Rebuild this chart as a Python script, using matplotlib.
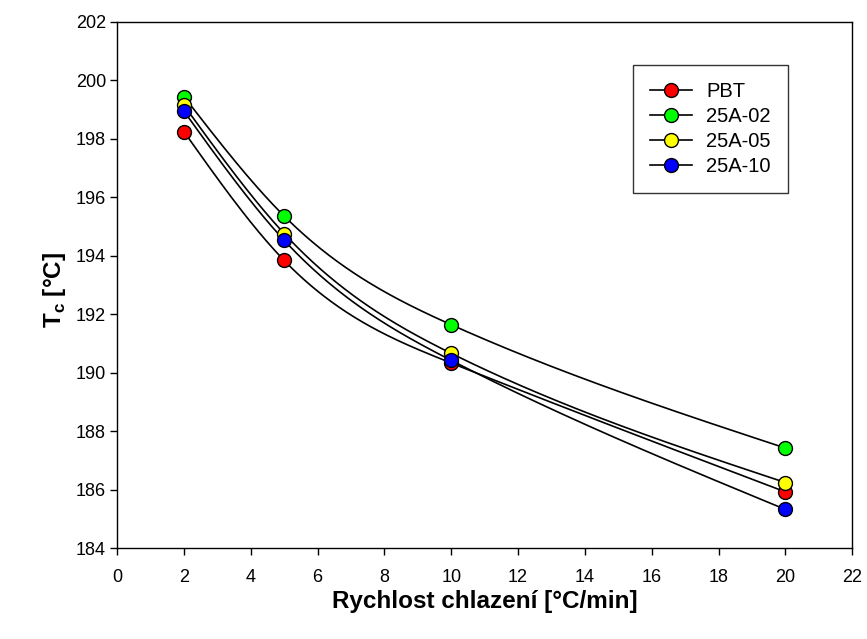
import numpy as np
import matplotlib
matplotlib.use("Agg")
import matplotlib.pyplot as plt
from matplotlib.lines import Line2D

plt.rcParams['font.family'] = ['Liberation Sans', 'DejaVu Sans']

rate = [2, 5, 10, 20]
series = ["PBT", "25A-02", "25A-05", "25A-10"]
tc_pbt = [198.25, 193.84, 190.33, 185.92]
tc_02 = [199.45, 195.36, 191.64, 187.42]
tc_05 = [199.15, 194.76, 190.66, 186.24]
tc_10 = [198.95, 194.53, 190.42, 185.32]
colors = ["#ff0000", "#00ff00", "#ffff00", "#0000ff"]


def natural_spline(x, y, xs):
    # smooth curve through the measured points (like SigmaPlot's spline line)
    x = np.asarray(x, float); y = np.asarray(y, float)
    n = len(x)
    h = np.diff(x)
    A = np.zeros((n, n)); b = np.zeros(n)
    A[0, 0] = A[-1, -1] = 1.0
    for i in range(1, n - 1):
        A[i, i - 1] = h[i - 1]
        A[i, i] = 2 * (h[i - 1] + h[i])
        A[i, i + 1] = h[i]
        b[i] = 3 * ((y[i + 1] - y[i]) / h[i] - (y[i] - y[i - 1]) / h[i - 1])
    c = np.linalg.solve(A, b)
    out = np.empty_like(xs)
    for k, xv in enumerate(xs):
        i = min(max(np.searchsorted(x, xv) - 1, 0), n - 2)
        bi = (y[i + 1] - y[i]) / h[i] - h[i] * (2 * c[i] + c[i + 1]) / 3
        di = (c[i + 1] - c[i]) / (3 * h[i])
        t = xv - x[i]
        out[k] = y[i] + bi * t + c[i] * t**2 + di * t**3
    return out


fig = plt.figure(figsize=(8.67, 6.39), dpi=100)
ax = fig.add_axes([0.135, 0.1424, 0.848, 0.8232])

xs = np.linspace(rate[0], rate[-1], 300)
handles = []
for k, (name, vals, col) in enumerate(zip(series, [tc_pbt, tc_02, tc_05, tc_10], colors)):
    ax.plot(xs, natural_spline(rate, vals, xs), color="black", lw=1.2, zorder=2)
    ax.plot(rate, vals, "o", ms=10, mfc=col, mec="black", mew=1.0, zorder=3 + k)
    handles.append(Line2D([], [], color="black", lw=1.2, marker="o", ms=10,
                          mfc=col, mec="black", mew=1.0, label=name))

ax.set_xlim(0, 22)
ax.set_ylim(184, 202)
ax.set_xticks(np.arange(0, 23, 2))
ax.set_yticks(np.arange(184, 203, 2))
ax.tick_params(direction="out", length=5, width=1, labelsize=13, top=False, right=False)
ax.tick_params(axis="x", pad=10)
ax.tick_params(axis="y", pad=3)
for s in ax.spines.values():
    s.set_linewidth(1.0)

ax.set_xlabel("Rychlost chlazení [°C/min]", fontsize=17.5, fontweight="bold")
ax.set_ylabel(r"T$_\mathregular{c}$ [°C]", fontsize=17.5, fontweight="bold")
ax.xaxis.set_label_coords(0.5, -0.08)
ax.yaxis.set_label_coords(-0.067, 0.49)

leg = ax.legend(handles=handles, loc="upper left", bbox_to_anchor=(0.7016, 0.918),
                borderaxespad=0, fontsize=14.5, frameon=True, fancybox=False,
                edgecolor="black", handlelength=2.1, handletextpad=0.7,
                borderpad=0.85, labelspacing=0.3)
leg.get_frame().set_linewidth(1.0)

fig.savefig("out.png", dpi=100)
